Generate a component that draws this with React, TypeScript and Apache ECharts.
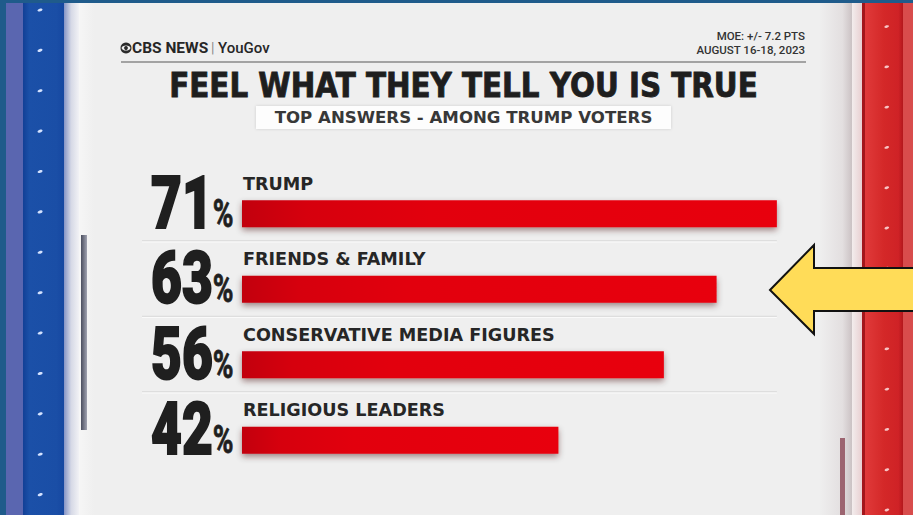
import React, { useEffect, useRef } from "react";
import * as echarts from "echarts";

const categories = ["TRUMP", "FRIENDS & FAMILY", "CONSERVATIVE MEDIA FIGURES", "RELIGIOUS LEADERS"];
const values = [71, 63, 56, 42];
const titleText = "FEEL WHAT THEY TELL YOU IS TRUE";
const subtitleText = "TOP ANSWERS - AMONG TRUMP VOTERS";
const moeText = "MOE: +/- 7.2 PTS";
const dateText = "AUGUST 16-18, 2023";
const brandLeft = "CBS NEWS";
const brandRight = "YouGov";

const lin = (stops: [string, number][], x2 = 1, y2 = 0) =>
  new echarts.graphic.LinearGradient(0, 0, x2, y2, stops.map(([color, offset]) => ({ color, offset })));

function buildGraphic() {
  const g: any[] = [];
  const z = 0;
  g.push({ type: "rect", z, shape: { x: 0, y: 0, width: 913, height: 515 }, style: { fill: "#1f5b8b" } });
  // left stripes
  g.push({ type: "rect", z, shape: { x: 6, y: 3, width: 17, height: 512 }, style: { fill: "#5a66b0" } });
  g.push({
    type: "rect", z, shape: { x: 23, y: 3, width: 42, height: 512 },
    style: { fill: lin([["#123f96", 0], ["#1b50a8", 0.15], ["#1a4ea6", 0.8], ["#1546a0", 1]]) },
  });
  g.push({
    type: "rect", z, shape: { x: 64, y: 3, width: 16, height: 512 },
    style: { fill: lin([["#8594c6", 0], ["#d6d9e6", 0.45], ["#f5f5f7", 1]]) },
  });
  // panel
  g.push({
    type: "rect", z, shape: { x: 79, y: 3, width: 763, height: 512 },
    style: { fill: lin([["#f6f6f6", 0], ["#efefef", 0.02], ["#efefef", 0.97], ["#e3dfe0", 1]]) },
  });
  // right stripes
  g.push({ type: "rect", z, shape: { x: 842, y: 3, width: 10, height: 512 }, style: { fill: lin([["#e4e0e1", 0], ["#cbc2c4", 1]]) } });
  g.push({ type: "rect", z, shape: { x: 852, y: 3, width: 10, height: 512 }, style: { fill: lin([["#f3eded", 0], ["#e8cfd1", 1]]) } });
  g.push({ type: "rect", z, shape: { x: 862, y: 3, width: 3, height: 512 }, style: { fill: "#a3161b" } });
  g.push({
    type: "rect", z, shape: { x: 865, y: 3, width: 38, height: 512 },
    style: { fill: lin([["#e03a3a", 0], ["#d42828", 0.5], ["#cf2226", 0.88], ["#b3171c", 1]]) },
  });
  g.push({ type: "rect", z, shape: { x: 903, y: 3, width: 10, height: 512 }, style: { fill: "#d84c4c" } });
  // small bars
  g.push({
    type: "rect", z, shape: { x: 81, y: 235, width: 6, height: 195 },
    style: { fill: lin([["#4a4e5e", 0], ["#a0a2b0", 1]]) },
  });
  g.push({ type: "rect", z, shape: { x: 840, y: 438, width: 5, height: 77 }, style: { fill: "#9c6470" } });
  // decorative dashes
  for (let i = 0; i < 13; i++) {
    g.push({ type: "ellipse", z, shape: { cx: 40, cy: 10 + 40.4 * i, rx: 2.6, ry: 1.4 }, rotation: 0.3, originX: 40, originY: 10 + 40.4 * i, style: { fill: "#d5e3ff" } });
    g.push({ type: "ellipse", z, shape: { cx: 887, cy: 27 + 40.3 * i, rx: 2.4, ry: 1.3 }, rotation: 0.3, originX: 887, originY: 27 + 40.3 * i, style: { fill: "#f7c4c4" } });
  }
  g.push({ type: "rect", z, shape: { x: 0, y: 0, width: 913, height: 3 }, style: { fill: "#1f5b8b" } });

  // header
  g.push({ type: "circle", z: 1, shape: { cx: 126, cy: 48, r: 5.5 }, style: { fill: "#2b2b2b" } });
  g.push({ type: "ellipse", z: 1, shape: { cx: 126, cy: 48, rx: 4.4, ry: 2.6 }, style: { fill: "#efefef" } });
  g.push({ type: "circle", z: 1, shape: { cx: 126, cy: 48, r: 1.9 }, style: { fill: "#2b2b2b" } });
  g.push({
    type: "text", z: 1, x: 132, y: 48,
    style: { text: brandLeft, font: "bold 15.5px Roboto", fill: "#262626", align: "left", verticalAlign: "middle" },
  });
  g.push({
    type: "text", z: 1, x: 211, y: 48,
    style: { text: "|", font: "14px Roboto", fill: "#8a8a8a", align: "left", verticalAlign: "middle" },
  });
  g.push({
    type: "text", z: 1, x: 218, y: 48,
    style: { text: brandRight, font: "500 15px Roboto", fill: "#262626", align: "left", verticalAlign: "middle" },
  });
  g.push({
    type: "text", z: 1, x: 805, y: 36,
    style: { text: moeText, font: "500 11.5px Roboto", fill: "#333333", align: "right", verticalAlign: "middle" },
  });
  g.push({
    type: "text", z: 1, x: 805, y: 49.5,
    style: { text: dateText, font: "500 11.5px Roboto", fill: "#333333", align: "right", verticalAlign: "middle" },
  });
  g.push({ type: "rect", z: 1, shape: { x: 121, y: 61, width: 685, height: 2 }, style: { fill: "#a3a3a3" } });
  g.push({
    type: "text", z: 1, x: 463.5, y: 85, scaleX: 0.89,
    style: {
      text: titleText, font: "bold 33px 'DejaVu Sans'", fill: "#1e1e1e", stroke: "#1e1e1e", lineWidth: 0.9,
      align: "center", verticalAlign: "middle",
    },
  });
  g.push({
    type: "rect", z: 1, shape: { x: 256, y: 106, width: 415, height: 23 },
    style: { fill: "#fdfdfd", shadowBlur: 3, shadowColor: "rgba(0,0,0,0.15)" },
  });
  g.push({
    type: "text", z: 1, x: 463.5, y: 117.5,
    style: { text: subtitleText, font: "bold 16.6px 'DejaVu Sans'", fill: "#383838", align: "center", verticalAlign: "middle" },
  });
  // arrow
  g.push({
    type: "polygon", z: 20,
    shape: { points: [[770, 290], [814, 245], [814, 268], [916, 268], [916, 311], [814, 311], [814, 334]] },
    style: { fill: "#ffdc58", stroke: "#111111", lineWidth: 2, lineJoin: "miter" },
  });
  return g;
}

export default function App() {
  const ref = useRef<HTMLDivElement>(null);
  useEffect(() => {
    document.body.style.margin = "0";
    const chart = echarts.init(ref.current!, null, { renderer: "svg" });
    const maxVal = Math.max(...values);
    const barGrad = lin([["#c2050f", 0], ["#d6020e", 0.12], ["#e2000c", 0.35], ["#e8000b", 1]]);
    chart.setOption({
      animation: false,
      graphic: { elements: buildGraphic() },
      grid: { left: 242, top: 176, width: 565, height: 302, containLabel: false },
      xAxis: { type: "value", min: 0, max: 75, show: false },
      yAxis: { type: "category", data: categories, inverse: true, show: false },
      series: [
        {
          type: "bar",
          data: values,
          barWidth: 27,
          z: 5,
          itemStyle: { color: barGrad, shadowBlur: 6, shadowColor: "rgba(60,0,0,0.45)", shadowOffsetY: 3 },
          label: {
            show: true,
            position: [1, -7.7],
            align: "left",
            verticalAlign: "bottom",
            formatter: "{b}",
            fontFamily: "DejaVu Sans",
            fontWeight: "bold",
            fontSize: 17.6,
            color: "#262626",
          },
        },
        {
          type: "custom",
          z: 6,
          data: values.map((v, i) => [v, categories[i]]),
          encode: { x: 0, y: 1 },
          renderItem: (params: any, api: any) => {
            const v = api.value(0);
            const idx = params.dataIndex;
            const c = api.coord([0, idx]);
            const endX = api.coord([maxVal, idx])[0];
            const children: any[] = [
              {
                type: "text",
                x: c[0] - 91,
                y: c[1] + 19,
                scaleX: 0.74,
                style: {
                  text: `{n|${v}}{p|%}`,
                  align: "left",
                  verticalAlign: "bottom",
                  rich: {
                    n: {
                      fontFamily: "Roboto", fontWeight: 900, fontSize: 72, lineHeight: 60,
                      fill: "#1f1f1f", stroke: "#1f1f1f", lineWidth: 2,
                    },
                    p: {
                      fontFamily: "Roboto", fontWeight: 700, fontSize: 38, lineHeight: 37, verticalAlign: "bottom",
                      fill: "#1f1f1f", stroke: "#1f1f1f", lineWidth: 0.8,
                    },
                  },
                },
              },
            ];
            if (idx < values.length - 1) {
              children.push({
                type: "line",
                shape: { x1: c[0] - 100, y1: c[1] + 27, x2: endX, y2: c[1] + 27 },
                style: { stroke: "#d9d9d9", lineWidth: 1.2 },
              });
              children.push({
                type: "line",
                shape: { x1: c[0] - 100, y1: c[1] + 28.3, x2: endX, y2: c[1] + 28.3 },
                style: { stroke: "#fafafa", lineWidth: 1 },
              });
            }
            return { type: "group", children };
          },
        },
      ],
    });
    return () => chart.dispose();
  }, []);
  return <div ref={ref} style={{ position: "absolute", left: 0, top: 0, width: 913, height: 515 }} />;
}
